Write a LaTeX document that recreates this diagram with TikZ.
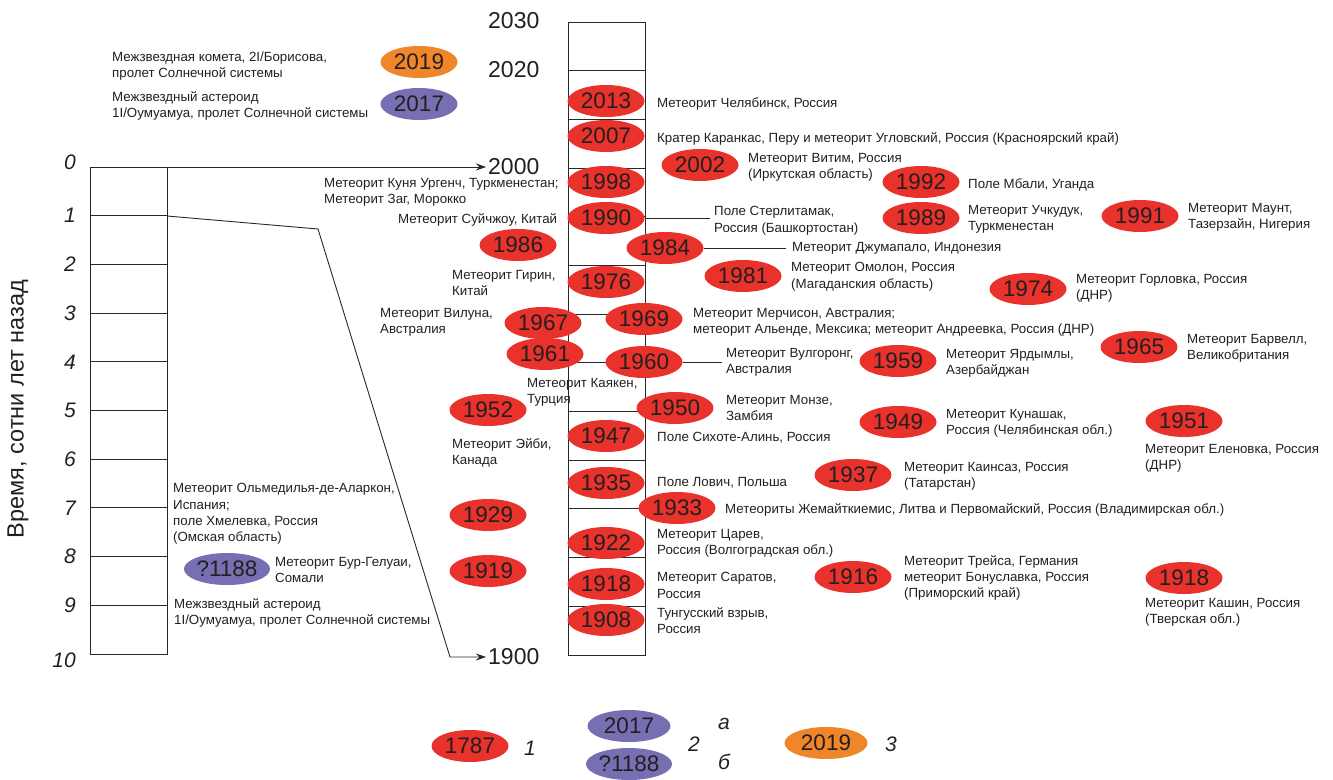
\documentclass[tikz,border=0pt]{standalone}
\usepackage{fontspec}
\setmainfont{Liberation Sans}
\usetikzlibrary{shapes.geometric,arrows.meta}
\definecolor{myred}{RGB}{232,50,43}
\definecolor{mypurple}{RGB}{118,112,179}
\definecolor{myorange}{RGB}{240,134,42}
\definecolor{txt}{RGB}{35,31,32}
\definecolor{lin}{RGB}{40,40,40}
\tikzset{
  yr/.style={ellipse, fill=myred, minimum width=77pt, minimum height=32pt, inner sep=0pt,
    font=\fontsize{22.5}{25}\selectfont, text=txt},
  yrp/.style={yr, fill=mypurple, minimum width=83pt},
  yro/.style={yr, fill=myorange},
  lbl/.style={anchor=north west, align=left, inner sep=0pt, text=txt,
    font=\fontsize{13.3}{16.2}\selectfont},
  axl/.style={anchor=west, inner sep=2pt, text=txt, font=\fontsize{23}{25}\selectfont},
  itn/.style={anchor=east, inner sep=0pt, text=txt, font=\fontsize{21}{23}\selectfont\itshape},
  leg/.style={inner sep=0pt, text=txt, font=\fontsize{21}{23}\selectfont\itshape},
  grid/.style={draw=lin, line width=0.9pt},
  conn/.style={draw=lin, line width=0.9pt},
  arr/.style={draw=lin, line width=0.9pt, -{Stealth[length=10pt,width=7pt]}}
}
\begin{document}
\begin{tikzpicture}[x=1pt,y=-1pt]
\useasboundingbox (0,0) rectangle (1333,779);

% ---------- left column (hundreds of years ago) ----------
\draw[grid] (90,167) rectangle (167,654);
\foreach \k in {1,...,9} { \draw[grid] (90,{167+\k*48.7}) -- (167,{167+\k*48.7}); }
\node[itn] (n0) at (76,162) {0};
\foreach \k in {1,...,9} { \node[itn] (n\k) at (76,{167+\k*48.7}) {\k}; }
\node[itn] (n10) at (76,660) {10};
\node[rotate=90, inner sep=0pt, text=txt, font=\fontsize{23.5}{25}\selectfont] (vlab) at (18,409) {Время, сотни лет назад};

% ---------- right column (years) ----------
\draw[grid] (568,22) rectangle (645,655);
\foreach \yy in {1910,1920,...,2020} { \draw[grid] (568,{655-(\yy-1900)*4.87}) -- (645,{655-(\yy-1900)*4.87}); }

\node[axl] (l2030) at (486,21) {2030};
\node[axl] (l2020) at (486,70) {2020};
\node[axl] (l2000) at (486,167) {2000};
\node[axl] (l1900) at (486,657) {1900};

\coordinate (c0) at (167,167);
\coordinate (c1) at (167,216);
\coordinate (b1) at (318,229);
\coordinate (b2) at (450,657);
\draw[arr] (c0) -- (l2000.west);
\draw[arr] (c1) -- (b1) -- (b2) -- (l1900.west);

% ---------- top-left interstellar ----------
\node[yro] (e2019) at (419,62) {2019};
\node[yrp, minimum width=77pt] (e2017) at (419,104) {2017};
\node[lbl] (t1) at (112,51.4) {Межзвездная комета, 2I/Борисова,\\пролет Солнечной системы};
\node[lbl] (t2) at (112,91.4) {Межзвездный астероид\\1I/Оумуамуа, пролет Солнечной системы};

% ---------- connectors ----------
\node[lbl] (t9) at (714,206.4) {Поле Стерлитамак,\\Россия (Башкортостан)};
\node[lbl] (t12) at (792,242.4) {Метеорит Джумапало, Индонезия};
\node[lbl] (t19) at (726,348.4) {Метеорит Вулгоронг,\\Австралия};

% ---------- ellipses in column ----------
\node[yr] (e2013) at (606,101) {2013};
\node[yr] (e2007) at (606,136) {2007};
\node[yr] (e1998) at (606,182) {1998};
\node[yr] (e1990) at (606,218) {1990};
\node[yr] (e1976) at (606,282) {1976};
\node[yr] (e1947) at (606,436) {1947};
\node[yr] (e1935) at (606,483) {1935};
\node[yr] (e1922) at (606,543) {1922};
\node[yr] (e1918) at (606,584) {1918};
\node[yr] (e1908) at (606,620) {1908};

% ---------- other ellipses ----------
\node[yr] (e2002) at (700,165) {2002};
\node[yr] (e1992) at (921,182) {1992};
\node[yr] (e1989) at (921,218) {1989};
\node[yr] (e1991) at (1140,216) {1991};
\node[yr] (e1986) at (518,245) {1986};
\node[yr] (e1984) at (665,248) {1984};
\node[yr] (e1981) at (743,276) {1981};
\node[yr] (e1974) at (1028,289) {1974};
\node[yr] (e1967) at (543,323) {1967};
\node[yr] (e1969) at (644,319) {1969};
\node[yr] (e1961) at (545,354) {1961};
\node[yr] (e1960) at (644,362) {1960};
\node[yr] (e1959) at (898,361) {1959};
\node[yr] (e1965) at (1139,347) {1965};
\node[yr] (e1952) at (488,410) {1952};
\node[yr] (e1950) at (675,408) {1950};
\node[yr] (e1949) at (898,422) {1949};
\node[yr] (e1951) at (1184,421) {1951};
\node[yr] (e1937) at (853,475) {1937};
\node[yr] (e1933) at (677,508) {1933};
\node[yr] (e1929) at (488,515) {1929};
\node[yr] (e1919) at (488,571) {1919};
\node[yr] (e1916) at (853,577) {1916};
\node[yr] (e1918b) at (1184,578) {1918};
\node[yrp] (e1188) at (227,569) {?1188};

\draw[conn] (e1990) -- ([xshift=-4pt]e1990 -| t9.west);
\draw[conn] (e1984) -- ([xshift=-6pt]e1984 -| t12.west);
\draw[conn] (e1960) -- ([xshift=-4pt]e1960 -| t19.west);

% ---------- labels ----------
\node[lbl] (t3) at (657,97.4) {Метеорит Челябинск, Россия};
\node[lbl] (t4) at (657,132.4) {Кратер Каранкас, Перу и метеорит Угловский, Россия (Красноярский край)};
\node[lbl] (t5) at (748,153.4) {Метеорит Витим, Россия\\(Иркутская область)};
\node[lbl] (t6) at (968,178.4) {Поле Мбали, Уганда};
\node[lbl] (t7) at (324,178.4) {Метеорит Куня Ургенч, Туркменестан;\\Метеорит Заг, Морокко};
\node[lbl] (t8) at (398,213.4) {Метеорит Суйчжоу, Китай};
\node[lbl] (t10) at (968,205.4) {Метеорит Учкудук,\\Туркменестан};
\node[lbl] (t11) at (1188,203.4) {Метеорит Маунт,\\Тазерзайн, Нигерия};
\node[lbl] (t13) at (791,262.4) {Метеорит Омолон, Россия\\(Магаданския область)};
\node[lbl] (t14) at (452,270.4) {Метеорит Гирин,\\Китай};
\node[lbl] (t15) at (1076,274.4) {Метеорит Горловка, Россия\\(ДНР)};
\node[lbl] (t16) at (380,308.4) {Метеорит Вилуна,\\Австралия};
\node[lbl] (t17) at (693,308.4) {Метеорит Мерчисон, Австралия;\\метеорит Альенде, Мексика; метеорит Андреевка, Россия (ДНР)};
\node[lbl] (t18) at (1187,334.4) {Метеорит Барвелл,\\Великобритания};
\node[lbl] (t20) at (946,349.4) {Метеорит Ярдымлы,\\Азербайджан};
\node[lbl] (t21) at (527,378.4) {Метеорит Каякен,\\Турция};
\node[lbl] (t22) at (726,395.4) {Метеорит Монзе,\\Замбия};
\node[lbl] (t23) at (946,409.4) {Метеорит Кунашак,\\Россия (Челябинская обл.)};
\node[lbl] (t24) at (657,432.4) {Поле Сихоте-Алинь, Россия};
\node[lbl] (t25) at (452,438.4) {Метеорит Эйби,\\Канада};
\node[lbl] (t26) at (1145,444.4) {Метеорит Еленовка, Россия\\(ДНР)};
\node[lbl] (t27) at (904,462.4) {Метеорит Каинсаз, Россия\\(Татарстан)};
\node[lbl] (t28) at (657,477.4) {Поле Лович, Польша};
\node[lbl] (t29) at (173,483.4) {Метеорит Ольмедилья-де-Аларкон,\\Испания;\\поле Хмелевка, Россия\\(Омская область)};
\node[lbl] (t30) at (725,503.4) {Метеориты Жемайткиемис, Литва и Первомайский, Россия (Владимирская обл.)};
\node[lbl] (t31) at (657,529.4) {Метеорит Царев,\\Россия (Волгоградская обл.)};
\node[lbl] (t32) at (904,555.4) {Метеорит Трейса, Германия\\метеорит Бонуславка, Россия\\(Приморский край)};
\node[lbl] (t33) at (275,557.4) {Метеорит Бур-Гелуаи,\\Сомали};
\node[lbl] (t34) at (657,572.4) {Метеорит Саратов,\\Россия};
\node[lbl] (t35) at (1145,598.4) {Метеорит Кашин, Россия\\(Тверская обл.)};
\node[lbl] (t36) at (174,598.4) {Межзвездный астероид\\1I/Оумуамуа, пролет Солнечной системы};
\node[lbl] (t37) at (657,607.4) {Тунгусский взрыв,\\Россия};

% ---------- legend ----------
\node[yr] (g1) at (470,746) {1787};
\node[leg] (g1t) at (530,748) {1};
\node[yrp] (g2a) at (629,726) {2017};
\node[yrp] (g2b) at (629,764) {?1188};
\node[leg] (g2t) at (694,744) {2};
\node[leg] (g2at) at (724,724) {а};
\node[leg] (g2bt) at (724,762) {б};
\node[yro, minimum width=83pt] (g3) at (826,743) {2019};
\node[leg] (g3t) at (891,744) {3};
\end{tikzpicture}
\end{document}
